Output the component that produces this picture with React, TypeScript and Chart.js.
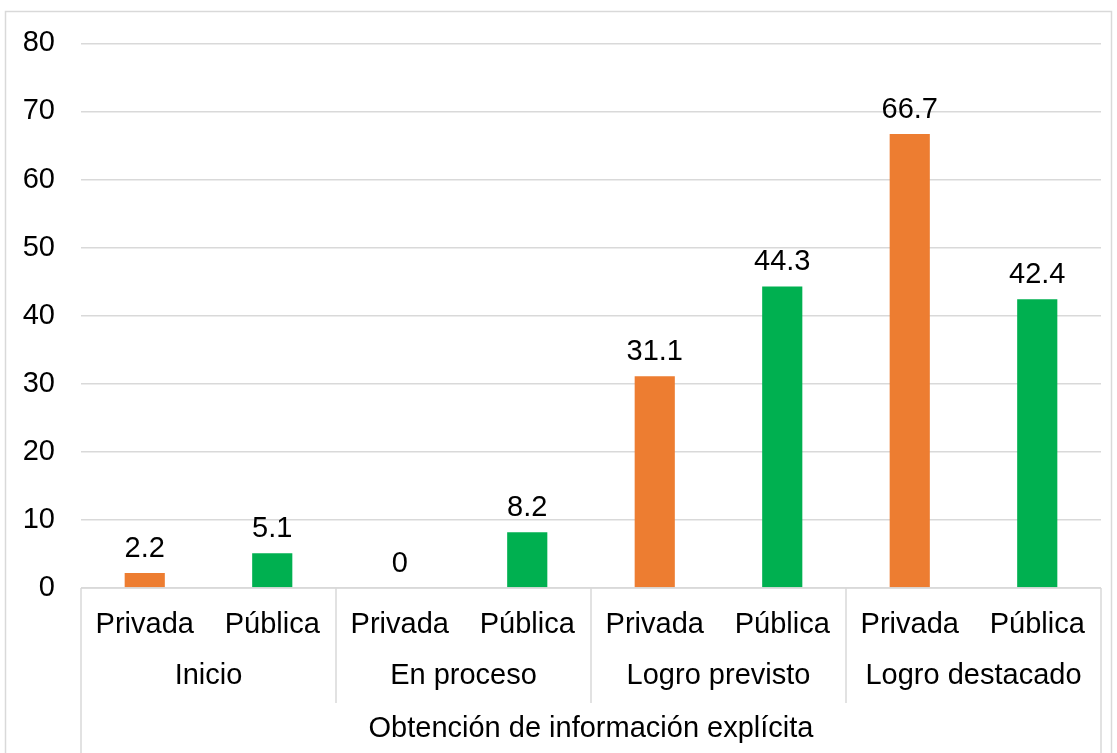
import React, { useEffect, useRef } from "react";
import { Chart, registerables } from "chart.js";

Chart.register(...registerables);

const categories = ["Privada", "Pública", "Privada", "Pública", "Privada", "Pública", "Privada", "Pública"];
const groups = ["Inicio", "En proceso", "Logro previsto", "Logro destacado"];
const axisTitle = "Obtención de información explícita";
const values = [2.2, 5.1, 0, 8.2, 31.1, 44.3, 66.7, 42.4];
const barColors = ["#ED7D31", "#00B050", "#ED7D31", "#00B050", "#ED7D31", "#00B050", "#ED7D31", "#00B050"];
const valueLabels = ["2.2", "5.1", "0", "8.2", "31.1", "44.3", "66.7", "42.4"];

const FONT = "'Liberation Sans', Arial, sans-serif";
const FS = 29;
const LINE = "#D9D9D9";

const overlay = {
  id: "overlay",
  afterDraw(chart: any) {
    const ctx = chart.ctx;
    const x = chart.scales.x;
    const y = chart.scales.y;
    const area = chart.chartArea;
    ctx.save();
    // outer border
    ctx.strokeStyle = LINE;
    ctx.lineWidth = 1.5;
    ctx.strokeRect(5.5, 11.5, 1106, 760);

    // value labels
    ctx.fillStyle = "#000";
    ctx.font = `${FS}px ${FONT}`;
    ctx.textAlign = "center";
    ctx.textBaseline = "alphabetic";
    values.forEach((v, i) => {
      ctx.fillText(valueLabels[i], x.getPixelForValue(i), y.getPixelForValue(v) - 16);
    });

    // axis line and separators
    ctx.strokeStyle = LINE;
    ctx.lineWidth = 1.5;
    ctx.beginPath();
    ctx.moveTo(area.left, area.bottom);
    ctx.lineTo(area.right, area.bottom);
    ctx.moveTo(area.left, area.bottom);
    ctx.lineTo(area.left, 760);
    ctx.moveTo(area.right, area.bottom);
    ctx.lineTo(area.right, 760);
    for (let g = 1; g < groups.length; g++) {
      const bx = (x.getPixelForValue(2 * g - 1) + x.getPixelForValue(2 * g)) / 2;
      ctx.moveTo(bx, area.bottom);
      ctx.lineTo(bx, 703);
    }
    ctx.stroke();

    // group labels
    ctx.fillStyle = "#000";
    ctx.textBaseline = "middle";
    groups.forEach((gname, g) => {
      const cx = (x.getPixelForValue(2 * g) + x.getPixelForValue(2 * g + 1)) / 2;
      ctx.fillText(gname, cx, 676);
    });
    ctx.fillText(axisTitle, (area.left + area.right) / 2, 729);
    ctx.restore();
  },
};

export default function App() {
  const ref = useRef<HTMLCanvasElement | null>(null);
  useEffect(() => {
    if (!ref.current) return;
    const chart = new Chart(ref.current, {
      type: "bar",
      data: {
        labels: categories,
        datasets: [
          {
            data: values,
            backgroundColor: barColors,
            borderWidth: 0,
            categoryPercentage: 1,
            barPercentage: 0.315,
          },
        ],
      },
      options: {
        animation: false,
        responsive: false,
        maintainAspectRatio: false,
        devicePixelRatio: 1,
        layout: { padding: { top: 39, left: 0, right: 16, bottom: 0 } },
        plugins: { legend: { display: false }, tooltip: { enabled: false } },
        scales: {
          x: {
            grid: { display: false },
            border: { display: false },
            ticks: {
              color: "#000",
              font: { family: FONT, size: FS },
              padding: 12,
              maxRotation: 0,
              autoSkip: false,
            },
            afterFit: (s: any) => {
              s.height = 165;
            },
          },
          y: {
            min: 0,
            max: 80,
            ticks: {
              stepSize: 10,
              color: "#000",
              font: { family: FONT, size: FS },
              padding: 26,
            },
            grid: { color: LINE, lineWidth: 1.5, drawTicks: false },
            border: { display: false },
            afterFit: (s: any) => {
              s.width = 81;
            },
          },
        },
      },
      plugins: [overlay],
    });
    return () => chart.destroy();
  }, []);
  return (
    <div style={{ position: "fixed", left: 0, top: 0, width: 1117, height: 753, background: "#fff" }}>
      <canvas ref={ref} width={1117} height={753} style={{ width: 1117, height: 753 }} />
    </div>
  );
}
